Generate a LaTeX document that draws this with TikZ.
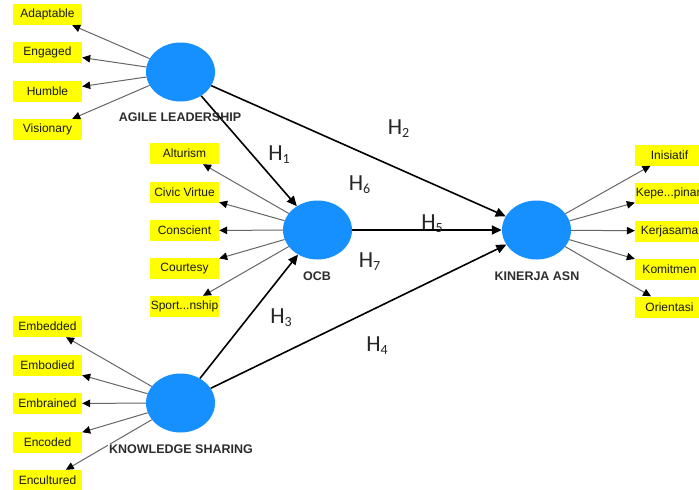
\documentclass[tikz,border=0pt]{standalone}
\usepackage{fontspec}
\setmainfont{Liberation Sans}
\newfontfamily\hfont{Carlito}
\usetikzlibrary{arrows.meta,shapes.geometric}
\definecolor{lvblue}{RGB}{22,144,255}
\definecolor{indyel}{RGB}{255,255,0}
\definecolor{lblgray}{RGB}{45,45,45}
\tikzset{
  lv/.style={ellipse, fill=lvblue, minimum width=69pt, minimum height=59pt, inner sep=0pt},
  ind/.style={rectangle, fill=indyel, minimum width=69pt, minimum height=21pt, inner sep=0pt, font=\fontsize{12}{12}\selectfont, text=black!90},
  meas/.style={draw=black!60, line width=1pt, -{Triangle[length=8pt,width=7.5pt,color=black]}},
  struct/.style={draw=black, line width=1.6pt, -{Triangle[length=10pt,width=9pt]}},
  lvlabel/.style={font=\bfseries\fontsize{12.5}{12.5}\selectfont, text=lblgray, inner sep=1pt},
  hlab/.style={font=\hfont\fontsize{23}{23}\selectfont, text=black!85, inner sep=0pt}
}
\newcommand{\hyp}[1]{H\raisebox{-3pt}{\fontsize{14}{14}\selectfont #1}}
\begin{document}
\begin{tikzpicture}[x=1pt,y=-1pt]
\clip (0,0) rectangle (699,490);
\fill[white] (0,0) rectangle (699,490);
% latent variables
\node[lv] (al) at (180.5,72) {};
\node[lv] (ocb) at (317.5,230) {};
\node[lv] (kin) at (536.5,230) {};
\node[lv] (ks) at (180.5,403) {};
% indicators agile
\node[ind] (a1) at (47.5,14.5) {Adaptable};
\node[ind] (a2) at (47.5,52.5) {Engaged};
\node[ind] (a3) at (47.5,91.5) {Humble};
\node[ind] (a4) at (47.5,129.5) {Visionary};
% ocb
\node[ind] (o1) at (184.5,153.5) {Alturism};
\node[ind] (o2) at (184.5,192.5) {Civic Virtue};
\node[ind] (o3) at (184.5,230.5) {Conscient};
\node[ind] (o4) at (184.5,268.5) {Courtesy};
\node[ind] (o5) at (184.5,306.5) {Sport...nship};
% kinerja
\node[ind] (k1) at (669.5,155) {Inisiatif};
\node[ind] (k2) at (669.5,193) {Kepe...pinan};
\node[ind] (k3) at (669.5,231) {Kerjasama};
\node[ind] (k4) at (669.5,269) {Komitmen};
\node[ind] (k5) at (669.5,307) {Orientasi};
% ks
\node[ind] (s1) at (47.5,326.5) {Embedded};
\node[ind] (s2) at (47.5,365.5) {Embodied};
\node[ind] (s3) at (47.5,403.5) {Embrained};
\node[ind] (s4) at (47.5,442.5) {Encoded};
\node[ind] (s5) at (47.5,480.5) {Encultured};
% measurement arrows
\foreach \t in {a1,a2,a3,a4} \draw[meas] (al) -- (\t);
\foreach \t in {o1,o2,o3,o4,o5} \draw[meas] (ocb) -- (\t);
\foreach \t in {k1,k2,k3,k4,k5} \draw[meas] (kin) -- (\t);
\foreach \t in {s1,s2,s3,s4,s5} \draw[meas] (ks) -- (\t);
% structural arrows
\draw[struct] (al) -- (ocb);
\draw[struct] (al) -- (kin);
\draw[struct] (ks) -- (ocb);
\draw[struct] (ks) -- (kin);
\draw[struct] (ocb) -- (kin);
% labels
\node[lvlabel] (lal) at (180,117) {AGILE LEADERSHIP};
\node[lvlabel] (locb) at (317,276) {OCB};
\node[lvlabel] (lkin) at (537,276) {KINERJA ASN};
\node[lvlabel, fill=white] (lks) at (181,449) {KNOWLEDGE SHARING};
% hypotheses
\node[hlab] (h1) at (279,155) {\hyp{1}};
\node[hlab] (h2) at (398.5,129) {\hyp{2}};
\node[hlab] (h3) at (281,318) {\hyp{3}};
\node[hlab] (h4) at (377,346) {\hyp{4}};
\node[hlab] (h5) at (432,224) {\hyp{5}};
\node[hlab] (h6) at (359.5,185) {\hyp{6}};
\node[hlab] (h7) at (369.5,262) {\hyp{7}};
\end{tikzpicture}
\end{document}
